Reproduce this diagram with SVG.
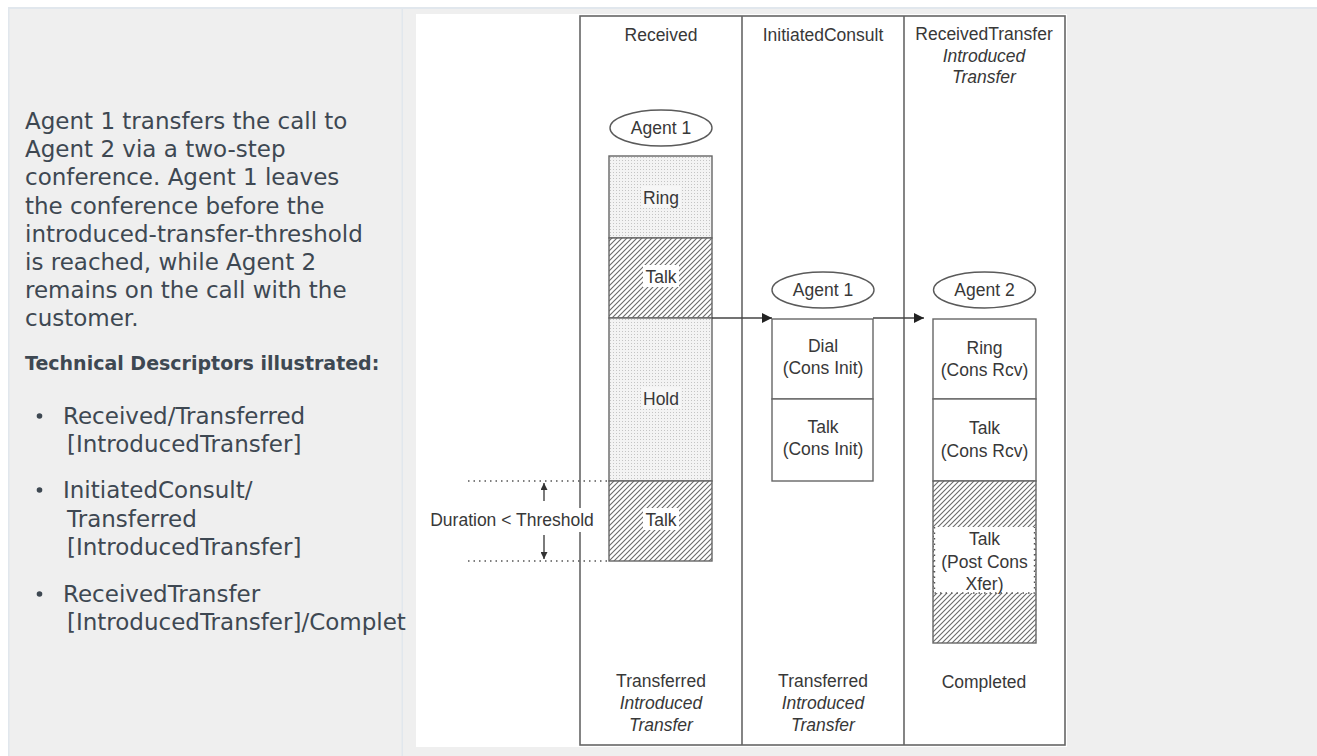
<svg xmlns="http://www.w3.org/2000/svg" width="1317" height="756" viewBox="0 0 1317 756">
<style>
.p{font-family:"DejaVu Sans",Verdana,sans-serif;font-size:23px;fill:#3e4852}
.b{font-family:"DejaVu Sans",Verdana,sans-serif;font-size:19px;font-weight:bold;fill:#3e4852}
.t{font-family:"Liberation Sans",Arial,sans-serif;font-size:17.5px;fill:#383838;text-anchor:middle}
.i{font-style:italic}
.frame{fill:none;stroke:#666;stroke-width:1.6}
.box{stroke:#666;stroke-width:1.4}
.ell{fill:#fff;stroke:#5a5a5a;stroke-width:1.4}
.con{stroke:#444;stroke-width:1.4;fill:none}
.dot{stroke:#555;stroke-width:1.4;stroke-dasharray:1.5,4;fill:none}
</style>
<defs>
<pattern id="dots" width="3" height="3" patternUnits="userSpaceOnUse">
<rect width="3" height="3" fill="#f3f3f3"/>
<rect x="1" y="1" width="1" height="1" fill="#c4c4c4"/>
</pattern>
<pattern id="hatch" width="5" height="5" patternUnits="userSpaceOnUse">
<rect width="5" height="5" fill="#fff"/>
<path d="M-1,1 L1,-1 M0,5 L5,0 M4,6 L6,4" stroke="#6a6a6a" stroke-width="1.1"/>
</pattern>
<marker id="ah" viewBox="0 0 10 10" refX="10" refY="5" markerWidth="10" markerHeight="10" markerUnits="userSpaceOnUse" orient="auto">
<path d="M0,0 L10,5 L0,10 z" fill="#222"/>
</marker>
<marker id="ahs" viewBox="0 0 10 10" refX="10" refY="5" markerWidth="7" markerHeight="7" markerUnits="userSpaceOnUse" orient="auto">
<path d="M0,0 L10,5 L0,10 z" fill="#333"/>
</marker>
<clipPath id="leftclip"><rect x="0" y="0" width="416" height="756"/></clipPath>
</defs>

<g id="page">
<rect x="0" y="0" width="1317" height="756" fill="#fff"/>
<rect x="8" y="7" width="1309" height="749" fill="#efefef"/>
<rect x="8" y="7" width="1309" height="2" fill="#e1e7ed"/>
<rect x="8" y="7" width="1.5" height="749" fill="#e1e7ed"/>
<rect x="401.5" y="7" width="1.5" height="749" fill="#e1e7ed"/>
</g>

<g id="description" clip-path="url(#leftclip)">
<text class="p" x="25" y="129">Agent 1 transfers the call to</text>
<text class="p" x="25" y="157.2">Agent 2 via a two-step</text>
<text class="p" x="25" y="185.4">conference. Agent 1 leaves</text>
<text class="p" x="25" y="213.6">the conference before the</text>
<text class="p" x="25" y="241.8">introduced-transfer-threshold</text>
<text class="p" x="25" y="270">is reached, while Agent 2</text>
<text class="p" x="25" y="298.2">remains on the call with the</text>
<text class="p" x="25" y="326.4">customer.</text>
<text class="b" x="25" y="370">Technical Descriptors illustrated:</text>
<circle cx="39.5" cy="416" r="2.8" fill="#3e4852"/>
<text class="p" x="63" y="424">Received/Transferred</text>
<text class="p" x="67" y="452">[IntroducedTransfer]</text>
<circle cx="39.5" cy="490" r="2.8" fill="#3e4852"/>
<text class="p" x="63" y="498">InitiatedConsult/</text>
<text class="p" x="67" y="527">Transferred</text>
<text class="p" x="67" y="555">[IntroducedTransfer]</text>
<circle cx="39.5" cy="594" r="2.8" fill="#3e4852"/>
<text class="p" x="63" y="602">ReceivedTransfer</text>
<text class="p" x="67" y="630">[IntroducedTransfer]/Complet</text>
</g>

<g id="canvas">
<rect x="416" y="14" width="651" height="733" fill="#fff"/>
</g>

<g id="columns">
<rect class="frame" x="580" y="16" width="485" height="729"/>
<line class="frame" x1="742" y1="16" x2="742" y2="745"/>
<line class="frame" x1="904" y1="16" x2="904" y2="745"/>
<text class="t" x="661" y="41">Received</text>
<text class="t" x="823" y="41">InitiatedConsult</text>
<text class="t" x="984" y="40">ReceivedTransfer</text>
<text class="t i" x="984" y="62">Introduced</text>
<text class="t i" x="984" y="83">Transfer</text>
<text class="t" x="661" y="687">Transferred</text>
<text class="t i" x="661" y="709">Introduced</text>
<text class="t i" x="661" y="731">Transfer</text>
<text class="t" x="823" y="687">Transferred</text>
<text class="t i" x="823" y="709">Introduced</text>
<text class="t i" x="823" y="731">Transfer</text>
<text class="t" x="984" y="688">Completed</text>
</g>

<g id="agent1-received">
<ellipse class="ell" cx="661" cy="128" rx="51" ry="18"/>
<text class="t" x="661" y="134">Agent 1</text>
<rect class="box" x="609" y="156" width="103" height="82" fill="url(#dots)"/>
<rect class="box" x="609" y="238" width="103" height="80" fill="url(#hatch)"/>
<rect class="box" x="609" y="318" width="103" height="163" fill="url(#dots)"/>
<rect class="box" x="609" y="481" width="103" height="80" fill="url(#hatch)"/>
<rect x="643" y="265" width="36" height="22" fill="#fff"/>
<rect x="643" y="508" width="36" height="22" fill="#fff"/>
<rect x="641" y="186" width="40" height="22" fill="#f6f6f6"/>
<rect x="641" y="387" width="40" height="22" fill="#f6f6f6"/>
<text class="t" x="661" y="204">Ring</text>
<text class="t" x="661" y="283">Talk</text>
<text class="t" x="661" y="405">Hold</text>
<text class="t" x="661" y="526">Talk</text>
</g>

<g id="agent1-consult">
<ellipse class="ell" cx="823" cy="290" rx="51" ry="18"/>
<text class="t" x="823" y="296">Agent 1</text>
<rect class="box" x="772" y="319" width="101" height="80" fill="#fff"/>
<rect class="box" x="772" y="399" width="101" height="82" fill="#fff"/>
<text class="t" x="823" y="352">Dial</text>
<text class="t" x="823" y="374">(Cons Init)</text>
<text class="t" x="823" y="433">Talk</text>
<text class="t" x="823" y="455">(Cons Init)</text>
</g>

<g id="agent2-transfer">
<ellipse class="ell" cx="984.5" cy="290" rx="51" ry="18"/>
<text class="t" x="984.5" y="296">Agent 2</text>
<rect class="box" x="933" y="319" width="103" height="80" fill="#fff"/>
<rect class="box" x="933" y="399" width="103" height="82" fill="#fff"/>
<rect class="box" x="933" y="481" width="103" height="162" fill="url(#hatch)"/>
<rect x="934" y="527" width="101" height="66" fill="#fff"/>
<path class="dot" d="M934.5,527 V593 H1034.5 V527"/>
<text class="t" x="984.5" y="354">Ring</text>
<text class="t" x="984.5" y="376">(Cons Rcv)</text>
<text class="t" x="984.5" y="434">Talk</text>
<text class="t" x="984.5" y="457">(Cons Rcv)</text>
<text class="t" x="984.5" y="545">Talk</text>
<text class="t" x="984.5" y="568">(Post Cons</text>
<text class="t" x="984.5" y="590">Xfer)</text>
</g>

<g id="threshold">
<line class="dot" x1="468" y1="481" x2="607" y2="481"/>
<line class="dot" x1="468" y1="561" x2="607" y2="561"/>
<rect x="424" y="508" width="176" height="24" fill="#fff"/>
<text class="t" x="512" y="526">Duration &lt; Threshold</text>
</g>

<g id="connectors">
<line class="con" x1="712" y1="318" x2="772" y2="318" marker-end="url(#ah)"/>
<line class="con" x1="873" y1="318" x2="924" y2="318" marker-end="url(#ah)"/>
<line class="con" x1="544" y1="501" x2="544" y2="483" marker-end="url(#ahs)"/>
<line class="con" x1="544" y1="535" x2="544" y2="559" marker-end="url(#ahs)"/>
</g>
</svg>
